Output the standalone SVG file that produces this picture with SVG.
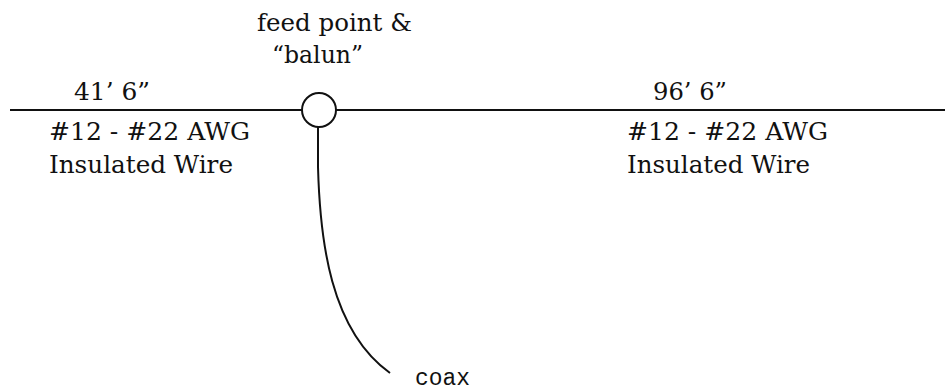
<svg xmlns="http://www.w3.org/2000/svg" width="945" height="391" viewBox="0 0 945 391">
<style>
.t{font-family:'DejaVu Serif',serif;font-size:24px;fill:#111}
.m{font-family:'Liberation Mono','Courier New','DejaVu Sans Mono',monospace;font-size:23px;fill:#111}
.w{stroke:#111;stroke-width:2;fill:none}
</style>
<rect width="945" height="391" fill="#fff"/>
<g id="connectors">
<line class="w" x1="10" y1="110" x2="302" y2="110"/>
<line class="w" x1="336" y1="110" x2="945" y2="110"/>
<path class="w" d="M318,127 L318,167 C320,240 330,330 390,373"/>
</g>
<g id="balun">
<circle class="w" cx="319" cy="110" r="17"/>
<text class="t" x="257" y="31" textLength="155" lengthAdjust="spacingAndGlyphs">feed point &amp;</text>
<text class="t" x="272" y="63" textLength="91" lengthAdjust="spacingAndGlyphs">“balun”</text>
</g>
<g id="left-wire">
<text class="t" x="74" y="100" textLength="76" lengthAdjust="spacingAndGlyphs">41’ 6”</text>
<text class="t" x="49" y="140" textLength="201" lengthAdjust="spacingAndGlyphs">#12 - #22 AWG</text>
<text class="t" x="49" y="173" textLength="184" lengthAdjust="spacingAndGlyphs">Insulated Wire</text>
</g>
<g id="right-wire">
<text class="t" x="653" y="100" textLength="74" lengthAdjust="spacingAndGlyphs">96’ 6”</text>
<text class="t" x="627" y="140" textLength="201" lengthAdjust="spacingAndGlyphs">#12 - #22 AWG</text>
<text class="t" x="627" y="173" textLength="183" lengthAdjust="spacingAndGlyphs">Insulated Wire</text>
</g>
<g id="coax">
<text class="m" x="415" y="385" textLength="55" lengthAdjust="spacingAndGlyphs">coax</text>
</g>
</svg>
